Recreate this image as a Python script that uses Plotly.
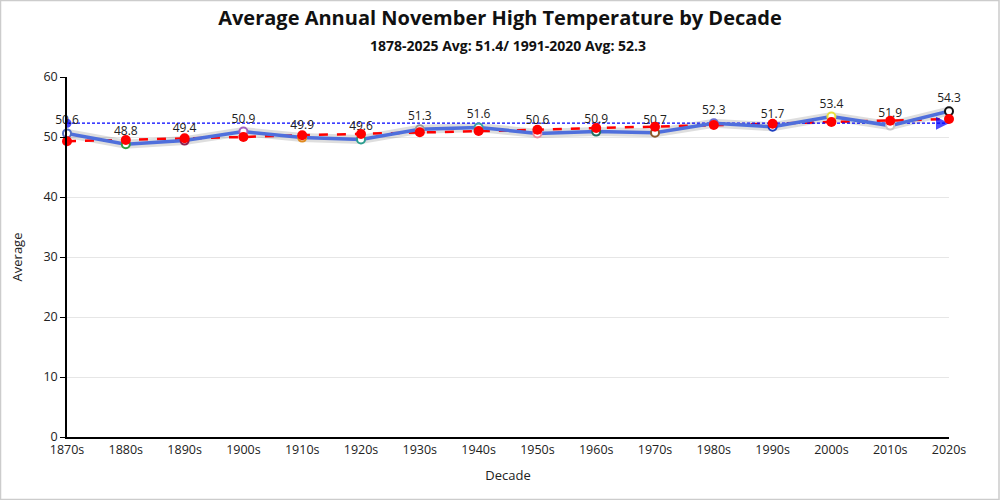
import plotly.graph_objects as go

decades = ["1870s", "1880s", "1890s", "1900s", "1910s", "1920s", "1930s", "1940s",
           "1950s", "1960s", "1970s", "1980s", "1990s", "2000s", "2010s", "2020s"]
averages = [50.6, 48.8, 49.4, 50.9, 49.9, 49.6, 51.3, 51.6,
            50.6, 50.9, 50.7, 52.3, 51.7, 53.4, 51.9, 54.3]
trend = [49.3, 49.5, 49.8, 50.0, 50.3, 50.5, 50.8, 51.0,
         51.2, 51.5, 51.7, 52.0, 52.2, 52.5, 52.7, 53.0]
normal_1991_2020 = 52.3
title_text = "Average Annual November High Temperature by Decade"
subtitle_text = "1878-2025 Avg: 51.4/ 1991-2020 Avg: 52.3"

point_colors = ["#5470c6", "#2e9e3e", "#8b2252", "#a05fc0", "#e08a1e", "#2a9d8f",
                "#9a9a9a", "#3aa0a8", "#f08ca0", "#1f6f5f", "#8b5a2b", "#6a6ad0",
                "#1f3fbf", "#e8e040", "#c8c8c8", "#111111"]

FONT = "Open Sans, Noto Sans, sans-serif"

fig = go.Figure()

# shadow under the main line
fig.add_trace(go.Scatter(
    x=decades, y=averages, mode="lines",
    line=dict(color="rgba(0,0,0,0.13)", width=9),
    hoverinfo="skip", showlegend=False))

# trend line (red dashed)
fig.add_trace(go.Scatter(
    x=decades, y=trend, mode="lines",
    line=dict(color="#ff0000", width=2.5, dash="dash"),
    showlegend=False))

# 1991-2020 normal line (blue fine dashes)
normal_vals = [normal_1991_2020] * len(decades)
fig.add_trace(go.Scatter(
    x=decades, y=normal_vals, mode="lines",
    line=dict(color="#0000ff", width=1.2, dash="3px,2px"),
    showlegend=False))
fig.add_trace(go.Scatter(
    x=[decades[0], decades[-1]], y=[normal_1991_2020, normal_1991_2020],
    mode="markers",
    marker=dict(color="#0000ff", size=[9, 13], symbol=["circle", "arrow-right"],
                line=dict(width=0)),
    showlegend=False))

# main averages line
fig.add_trace(go.Scatter(
    x=decades, y=averages, mode="lines+markers+text",
    line=dict(color="#4f6fdc", width=3.5),
    marker=dict(size=8, color="white", line=dict(color=point_colors, width=2)),
    text=[f"{v:.1f}" for v in averages],
    textposition="top center",
    textfont=dict(family=FONT, size=12, color="#222222"),
    cliponaxis=False,
    showlegend=False))

# red trend dots on top
fig.add_trace(go.Scatter(
    x=decades, y=trend, mode="markers",
    marker=dict(color="#ff0000", size=10),
    cliponaxis=False,
    showlegend=False))

fig.update_layout(
    width=1000, height=500,
    paper_bgcolor="white", plot_bgcolor="white",
    margin=dict(l=67, r=51, t=77, b=63),
    font=dict(family=FONT, size=12, color="#222222"),
    title=dict(
        text=f"<b>{title_text}</b>",
        x=0.5, xanchor="center", y=0.965, yanchor="middle",
        font=dict(family=FONT, size=20, color="#111111")),
    annotations=[dict(
        text=f"<b>{subtitle_text}</b>", xref="paper", yref="paper",
        x=0.5, y=1 + 32 / 360, xanchor="center", yanchor="middle",
        showarrow=False, font=dict(family=FONT, size=14, color="#111111"))],
    shapes=[dict(
        type="rect", xref="paper", yref="paper",
        x0=-66.5 / 882, x1=1 + 50 / 882, y0=-62.5 / 360, y1=1 + 76.5 / 360,
        line=dict(color="#cccccc", width=1.5))],
)

fig.update_xaxes(
    type="category", range=[0, len(decades) - 1],
    showline=True, linecolor="#000000", linewidth=1.5,
    showgrid=False, ticks="", zeroline=False,
    tickfont=dict(family=FONT, size=12.5, color="#222222"),
    title=dict(text="Decade", font=dict(family=FONT, size=13, color="#222222"), standoff=14),
)
fig.update_yaxes(
    range=[0, 60], dtick=10,
    showline=True, linecolor="#000000", linewidth=1.5,
    ticks="outside", ticklen=5, tickcolor="#000000",
    showgrid=True, gridcolor="#e6e6e6", zeroline=False,
    tickfont=dict(family=FONT, size=12.5, color="#222222"),
    title=dict(text="Average", font=dict(family=FONT, size=13, color="#222222"), standoff=18),
)

fig.write_html("out.html", config={"displayModeBar": False},
               post_script="document.body.style.margin='0';")
